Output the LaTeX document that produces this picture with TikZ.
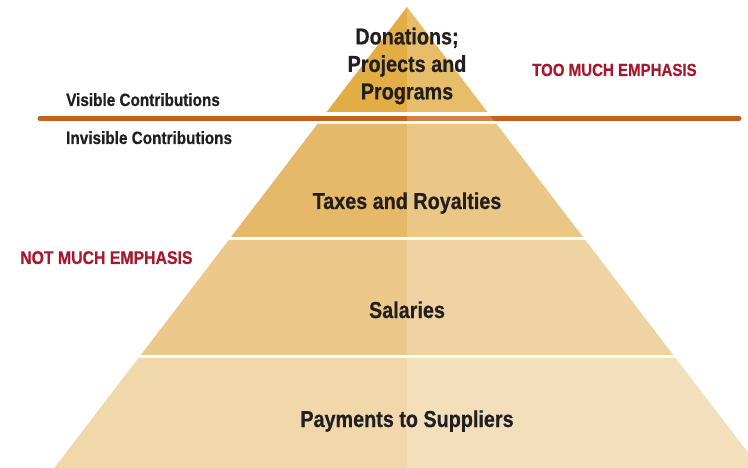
\documentclass[tikz,border=0pt]{standalone}
\usepackage{fontspec}
\setmainfont{Liberation Sans}[FakeStretch=0.86, BoldFeatures={FakeBold=0.6}]
\usetikzlibrary{positioning,calc}
\definecolor{tierA}{HTML}{E2AD45}
\definecolor{tierB}{HTML}{E5B969}
\definecolor{tierC}{HTML}{ECC98B}
\definecolor{tierD}{HTML}{F1D8AA}
\definecolor{ruleorange}{HTML}{C5621A}
\definecolor{ink}{HTML}{231F20}
\definecolor{emphred}{HTML}{A6192E}
\tikzset{
	tierlabel/.style={font=\bfseries\fontsize{23}{27.5}\selectfont, text=ink, align=center, inner sep=0pt},
	sidelabel/.style={font=\bfseries\fontsize{17.8}{20}\selectfont, text=ink, anchor=base west, inner sep=0pt},
	emphlabel/.style={sidelabel, text=emphred}
}
\begin{document}
\begin{tikzpicture}[x=1pt, y=-1pt]
		\useasboundingbox (0, 0) rectangle (748, 468);
		\clip (0, 0) rectangle (748, 468);
		\coordinate (apex) at (407, 7);
		\coordinate (bl) at (54.3, 468);
		\coordinate (br) at (759.7, 468);
		\coordinate (mid) at (407, 468);

		% tiers
		\foreach \ya/\yb/\col in {7/112/tierA, 124/237/tierB, 240/355/tierC, 358/468/tierD}
			\fill[\col] ($(apex)!{(\ya-7)/461}!(bl)$) -- ($(apex)!{(\yb-7)/461}!(bl)$) -- ($(apex)!{(\yb-7)/461}!(br)$) -- ($(apex)!{(\ya-7)/461}!(br)$) -- cycle;

		\coordinate (ruleL) at (40, 118.5);
		\coordinate (ruleR) at (739, 118.5);
		\draw[line width=5pt, line cap=round, draw=ruleorange] (ruleL) -- (ruleR);

		% lighter right half
		\fill[white, opacity=0.2] (apex) -- (br) -- (mid) -- cycle;

		\node[tierlabel] (don) at (407, 66) {Donations;\\Projects and\\Programs};
		\node[tierlabel, anchor=base] (tax) at (407, 209) {Taxes and Royalties};
		\node[tierlabel, anchor=base] (sal) at (407, 318) {Salaries};
		\node[tierlabel, anchor=base] (pay) at (407, 427) {Payments to Suppliers};

		\node[sidelabel] (vis) at (66, 106) {Visible Contributions};
		\node[sidelabel] (invis) at (66, 144) {Invisible Contributions};
		\node[emphlabel, font=\bfseries\fontsize{17.5}{20}\selectfont] (too) at (532, 76) {TOO MUCH EMPHASIS};
		\node[emphlabel, font=\bfseries\fontsize{18.4}{20}\selectfont] (notmuch) at (20, 264) {NOT MUCH EMPHASIS};
	\end{tikzpicture}
\end{document}
